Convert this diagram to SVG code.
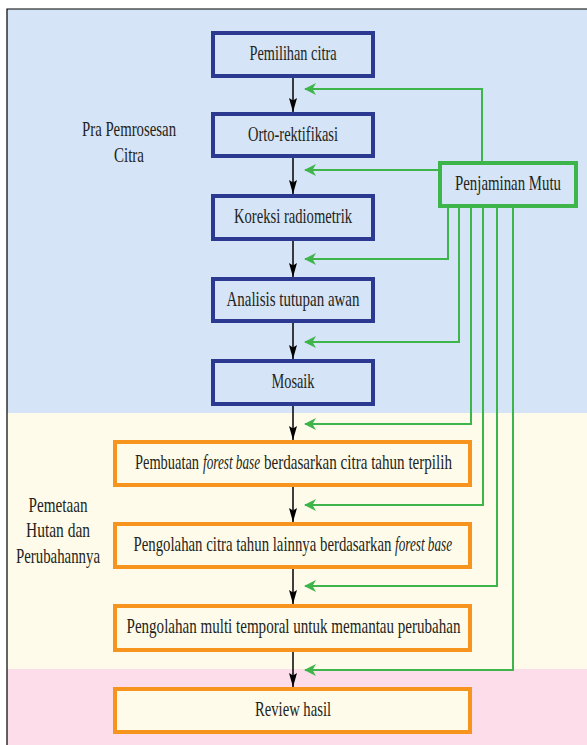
<svg xmlns="http://www.w3.org/2000/svg" width="587" height="745" viewBox="0 0 587 745">
<style>
text{font-family:"Liberation Serif","Times New Roman",serif;font-size:20px;fill:#231f20;text-anchor:middle}
text.s{text-anchor:start}
.it{font-style:italic}
.blue{fill:#d5e4f6;stroke:#2b3990;stroke-width:4}
.org{fill:#fffbea;stroke:#f7941d;stroke-width:4}
.grn{fill:#d5e4f6;stroke:#3db54a;stroke-width:4}
.bl{fill:none;stroke:#000;stroke-width:1.5}
.gl{fill:none;stroke:#3db54a;stroke-width:2}
</style>
<defs>
<marker id="ab" viewBox="0 0 14 8" refX="14" refY="4" markerWidth="14" markerHeight="8" markerUnits="userSpaceOnUse" orient="auto">
<path d="M0,0 L14,4 L0,8 L2.5,4 Z" fill="#000"/>
</marker>
<marker id="ag" viewBox="0 0 12 12" refX="11" refY="6" markerWidth="12" markerHeight="12" markerUnits="userSpaceOnUse" orient="auto">
<path d="M0,0 L12,6 L0,12 L3.5,6 Z" fill="#3db54a"/>
</marker>
</defs>
<g id="background">
<rect x="7" y="9" width="580" height="404" fill="#d5e4f6"/>
<rect x="7" y="413" width="580" height="256" fill="#fefbea"/>
<rect x="7" y="669" width="580" height="76" fill="#fcdde9"/>
<path d="M7,745 V9 H587" fill="none" stroke="#000" stroke-width="1.2"/>
</g>
<g id="labels">
<text transform="translate(129,136) scale(0.72,1)" textLength="130.6" lengthAdjust="spacingAndGlyphs">Pra Pemrosesan</text>
<text transform="translate(129,162) scale(0.72,1)" textLength="41.7" lengthAdjust="spacingAndGlyphs">Citra</text>
<text transform="translate(58,512) scale(0.72,1)" textLength="81.9" lengthAdjust="spacingAndGlyphs">Pemetaan</text>
<text transform="translate(58,537) scale(0.72,1)" textLength="88.9" lengthAdjust="spacingAndGlyphs">Hutan dan</text>
<text transform="translate(58,563) scale(0.72,1)" textLength="116.7" lengthAdjust="spacingAndGlyphs">Perubahannya</text>
</g>
<g id="connectors">
<path class="bl" d="M293,78 V112" marker-end="url(#ab)"/>
<path class="bl" d="M293,158 V194" marker-end="url(#ab)"/>
<path class="bl" d="M293,241 V277" marker-end="url(#ab)"/>
<path class="bl" d="M293,323 V359" marker-end="url(#ab)"/>
<path class="bl" d="M293,406 V440" marker-end="url(#ab)"/>
<path class="bl" d="M293,487 V522" marker-end="url(#ab)"/>
<path class="bl" d="M293,569 V604" marker-end="url(#ab)"/>
<path class="bl" d="M293,652 V687" marker-end="url(#ab)"/>
<path class="gl" d="M482,161 V89 H305" marker-end="url(#ag)"/>
<path class="gl" d="M438,170 H305" marker-end="url(#ag)"/>
<path class="gl" d="M448,208 V259 H305" marker-end="url(#ag)"/>
<path class="gl" d="M459,208 V342 H305" marker-end="url(#ag)"/>
<path class="gl" d="M471,208 V424 H305" marker-end="url(#ag)"/>
<path class="gl" d="M483,208 V505 H305" marker-end="url(#ag)"/>
<path class="gl" d="M497,208 V586 H305" marker-end="url(#ag)"/>
<path class="gl" d="M513,208 V670 H305" marker-end="url(#ag)"/>
</g>
<g id="n1"><rect class="blue" x="213" y="33" width="160" height="43"/><text transform="translate(293,60) scale(0.72,1)" textLength="120.8" lengthAdjust="spacingAndGlyphs">Pemilihan citra</text></g>
<g id="n2"><rect class="blue" x="213" y="114" width="160" height="42"/><text transform="translate(293,141) scale(0.72,1)" textLength="125" lengthAdjust="spacingAndGlyphs">Orto-rektifikasi</text></g>
<g id="n3"><rect class="blue" x="213" y="196" width="160" height="43"/><text transform="translate(293,223) scale(0.72,1)" textLength="163.9" lengthAdjust="spacingAndGlyphs">Koreksi radiometrik</text></g>
<g id="n4"><rect class="blue" x="213" y="279" width="160" height="42"/><text transform="translate(293,306) scale(0.72,1)" textLength="184.7" lengthAdjust="spacingAndGlyphs">Analisis tutupan awan</text></g>
<g id="n5"><rect class="blue" x="213" y="361" width="160" height="43"/><text transform="translate(293,388) scale(0.72,1)" textLength="59.7" lengthAdjust="spacingAndGlyphs">Mosaik</text></g>
<g id="n6"><rect class="org" x="115" y="442" width="355" height="43"/>
<text class="s" transform="translate(135,469) scale(0.72,1)" textLength="88.9" lengthAdjust="spacingAndGlyphs">Pembuatan</text>
<text class="s it" transform="translate(203,469) scale(0.72,1)" textLength="79.2" lengthAdjust="spacingAndGlyphs">forest base</text>
<text class="s" transform="translate(264,469) scale(0.72,1)" textLength="261.1" lengthAdjust="spacingAndGlyphs">berdasarkan citra tahun terpilih</text></g>
<g id="n7"><rect class="org" x="115" y="524" width="355" height="43"/>
<text class="s" transform="translate(133.5,551) scale(0.72,1)" textLength="358.3" lengthAdjust="spacingAndGlyphs">Pengolahan citra tahun lainnya berdasarkan</text>
<text class="s it" transform="translate(395,551) scale(0.72,1)" textLength="79.2" lengthAdjust="spacingAndGlyphs">forest base</text></g>
<g id="n8"><rect class="org" x="115" y="606" width="355" height="44"/><text transform="translate(293.5,633) scale(0.72,1)" textLength="463.9" lengthAdjust="spacingAndGlyphs">Pengolahan multi temporal untuk memantau perubahan</text></g>
<g id="n9"><rect class="org" x="115" y="689" width="355" height="43"/><text transform="translate(293,716) scale(0.72,1)" textLength="105.6" lengthAdjust="spacingAndGlyphs">Review hasil</text></g>
<g id="qa"><rect class="grn" x="440" y="163" width="136" height="43"/><text transform="translate(508,190) scale(0.72,1)" textLength="147.2" lengthAdjust="spacingAndGlyphs">Penjaminan Mutu</text></g>
</svg>
